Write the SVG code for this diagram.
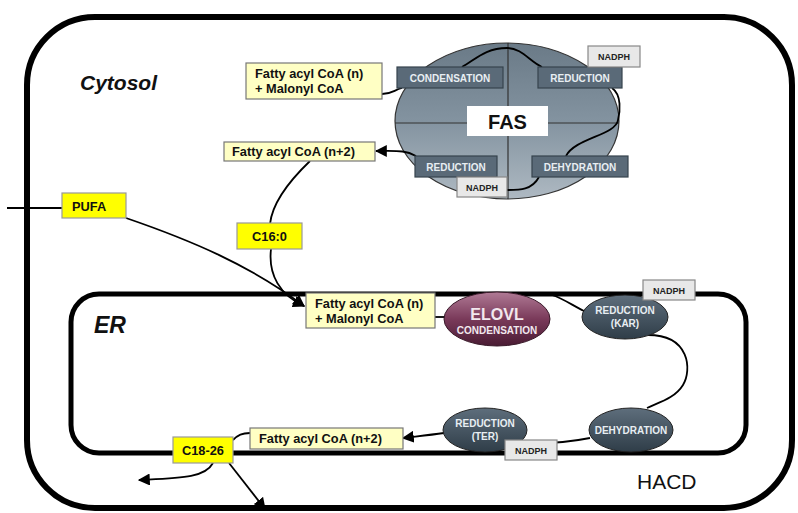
<svg xmlns="http://www.w3.org/2000/svg" width="798" height="513" viewBox="0 0 798 513">
<defs>
<linearGradient id="gFas" x1="0" y1="0" x2="0" y2="1">
<stop offset="0" stop-color="#6a7a87"/><stop offset="0.5" stop-color="#8393a0"/><stop offset="1" stop-color="#aeb9c2"/>
</linearGradient>
<linearGradient id="gElovl" x1="0" y1="0" x2="0" y2="1">
<stop offset="0" stop-color="#b07a95"/><stop offset="0.5" stop-color="#7a3a5a"/><stop offset="1" stop-color="#4a1c34"/>
</linearGradient>
<linearGradient id="gDark" x1="0" y1="0" x2="0" y2="1">
<stop offset="0" stop-color="#5e6e7c"/><stop offset="1" stop-color="#2f3d48"/>
</linearGradient>
<marker id="arrB" viewBox="0 0 10 10" refX="9" refY="5" markerWidth="12" markerHeight="12" orient="auto" markerUnits="userSpaceOnUse">
<path d="M0,0 L10,5 L0,10 z" fill="#000"/>
</marker>
</defs>
<style>
.lbl{font-family:"Liberation Sans",Arial,sans-serif;font-weight:bold;}
.pale{fill:#ffffc4;stroke:#777;stroke-width:1.2;}
.yel{fill:#ffff00;stroke:#999;stroke-width:1.2;}
.dbox{fill:#5a6a78;stroke:#36434d;stroke-width:1.2;}
.nad{fill:#e8e8e8;stroke:#888;stroke-width:1.2;}
.wt{fill:#e8eef2;font-size:10px;}
.bt{fill:#111;font-size:12.8px;}
.nt{fill:#222;font-size:9px;}
.con{fill:none;stroke:#000;stroke-width:1.8;}
.mem{fill:none;stroke:#000;}
</style>
<rect width="798" height="513" fill="#fff"/>
<g id="cytosol">
<rect class="mem" x="27" y="17" width="765" height="491" rx="68" stroke-width="6"/>
<text class="lbl" x="80" y="90" font-size="21" font-style="italic" fill="#111">Cytosol</text>
</g>
<g id="er">
<rect class="mem" x="71" y="294" width="675" height="159" rx="28" stroke-width="5"/>
<text class="lbl" x="94" y="333" font-size="23" font-style="italic" fill="#111">ER</text>
</g>
<g id="hacd"><text x="637" y="489" font-family="Liberation Sans,Arial,sans-serif" font-size="21" fill="#111">HACD</text></g>
<g id="fas">
<ellipse cx="507" cy="121" rx="112" ry="78" fill="url(#gFas)" stroke="#333" stroke-width="1.2"/>
<line x1="508" y1="43" x2="508" y2="199" stroke="#333" stroke-width="1.2"/>
<line x1="395" y1="123" x2="619" y2="123" stroke="#333" stroke-width="1.2"/>
</g>
<g id="connectors">
<path class="con" d="M382,94 C392,94 394,90 402,88"/>
<path class="con" d="M462,67 C475,60 485,48 507,48 C522,48 530,62 542,67"/>
<path class="con" d="M612,88 C622,95 620,112 618,120 C616,135 575,138 566,156"/>
<path class="con" d="M539,177 C532,190 520,190 507,190"/>
<path class="con" marker-end="url(#arrB)" d="M416,156 C405,150 398,151 376,151"/>
<path class="con" d="M310,161 C285,185 272,205 270,224"/>
<path class="con" marker-end="url(#arrB)" d="M271,249 C268,275 280,295 304,306"/>
<path class="con" d="M7,208 L62,208"/>
<path class="con" marker-end="url(#arrB)" d="M126,218 C190,240 250,265 304,306"/>
<path class="con" d="M435,317 L446,317"/>
<path class="con" d="M552,295 C562,298 572,305 584,311"/>
<path class="con" d="M648,335 C690,335 692,370 683,385 C675,398 660,402 647,408"/>
<path class="con" d="M590,438 C570,442 545,444 520,443"/>
<path class="con" marker-end="url(#arrB)" d="M444,433 C430,435 420,436 403,438"/>
<path class="con" d="M250,433 C242,433 238,435 233,440"/>
<path class="con" marker-end="url(#arrB)" d="M213,463 C205,478 180,478 139,480"/>
<path class="con" marker-end="url(#arrB)" d="M229,463 L265,509"/>
</g>
<g id="fas-label">
<rect x="467" y="106" width="81" height="30" fill="#fff"/>
<text class="lbl" x="507.5" y="129" font-size="20" text-anchor="middle" fill="#111">FAS</text>
</g>
<g id="fas-condensation"><rect class="dbox" x="397" y="67" width="106" height="21"/><text class="lbl wt" x="450" y="81.5" text-anchor="middle">CONDENSATION</text></g>
<g id="fas-reduction1"><rect class="dbox" x="538" y="67" width="84" height="21"/><text class="lbl wt" x="580" y="81.5" text-anchor="middle">REDUCTION</text></g>
<g id="fas-nadph1"><rect class="nad" x="588" y="46" width="52" height="21"/><text class="lbl nt" x="614" y="60" text-anchor="middle">NADPH</text></g>
<g id="fas-reduction2"><rect class="dbox" x="415" y="156" width="82" height="21"/><text class="lbl wt" x="456" y="170.5" text-anchor="middle">REDUCTION</text></g>
<g id="fas-nadph2"><rect class="nad" x="457" y="177" width="50" height="20"/><text class="lbl nt" x="482" y="190.5" text-anchor="middle">NADPH</text></g>
<g id="fas-dehydration"><rect class="dbox" x="532" y="156" width="96" height="21"/><text class="lbl wt" x="580" y="170.5" text-anchor="middle">DEHYDRATION</text></g>
<g id="fac-n-top"><rect class="pale" x="246" y="63" width="136" height="36"/><text class="lbl bt" x="255" y="78">Fatty acyl CoA (n)</text><text class="lbl bt" x="255" y="93">+ Malonyl CoA</text></g>
<g id="fac-n2-top"><rect class="pale" x="224" y="142" width="151" height="19"/><text class="lbl bt" x="232" y="156">Fatty acyl CoA (n+2)</text></g>
<g id="c16"><rect class="yel" x="237" y="223" width="65" height="26"/><text class="lbl bt" x="269.5" y="240.5" text-anchor="middle">C16:0</text></g>
<g id="pufa"><rect class="yel" x="62" y="193" width="64" height="25"/><text class="lbl bt" x="72" y="210.5">PUFA</text></g>
<g id="fac-n-er"><rect class="pale" x="306" y="293" width="129" height="35"/><text class="lbl bt" x="315" y="307.5">Fatty acyl CoA (n)</text><text class="lbl bt" x="315" y="322.5">+ Malonyl CoA</text></g>
<g id="elovl"><ellipse cx="497" cy="319" rx="53" ry="27" fill="url(#gElovl)" stroke="#3a1a2a" stroke-width="1"/><text class="lbl" x="497" y="320" font-size="16" text-anchor="middle" fill="#f2e8ee">ELOVL</text><text class="lbl" x="497" y="334" font-size="10" text-anchor="middle" fill="#f2e8ee">CONDENSATION</text></g>
<g id="kar"><ellipse cx="625" cy="317" rx="43" ry="22" fill="url(#gDark)" stroke="#222" stroke-width="1"/><text class="lbl wt" x="625" y="314" font-size="9.5" text-anchor="middle">REDUCTION</text><text class="lbl wt" x="625" y="327" font-size="9.5" text-anchor="middle">(KAR)</text></g>
<g id="nadph-kar"><rect class="nad" x="643" y="280" width="52" height="20"/><text class="lbl nt" x="669" y="293.5" text-anchor="middle">NADPH</text></g>
<g id="dehydration-er"><ellipse cx="631" cy="430" rx="42" ry="22" fill="url(#gDark)" stroke="#222" stroke-width="1"/><text class="lbl wt" x="631" y="433.5" font-size="9.5" text-anchor="middle">DEHYDRATION</text></g>
<g id="ter"><ellipse cx="485" cy="430" rx="42" ry="22" fill="url(#gDark)" stroke="#222" stroke-width="1"/><text class="lbl wt" x="485" y="427" font-size="9.5" text-anchor="middle">REDUCTION</text><text class="lbl wt" x="485" y="440" font-size="9.5" text-anchor="middle">(TER)</text></g>
<g id="nadph-ter"><rect class="nad" x="505" y="440" width="52" height="20"/><text class="lbl nt" x="531" y="453.5" text-anchor="middle">NADPH</text></g>
<g id="fac-n2-er"><rect class="pale" x="250" y="428" width="153" height="21"/><text class="lbl bt" x="259" y="443">Fatty acyl CoA (n+2)</text></g>
<g id="c18"><rect class="yel" x="173" y="437" width="60" height="26"/><text class="lbl bt" x="203" y="454.5" text-anchor="middle">C18-26</text></g>
</svg>
